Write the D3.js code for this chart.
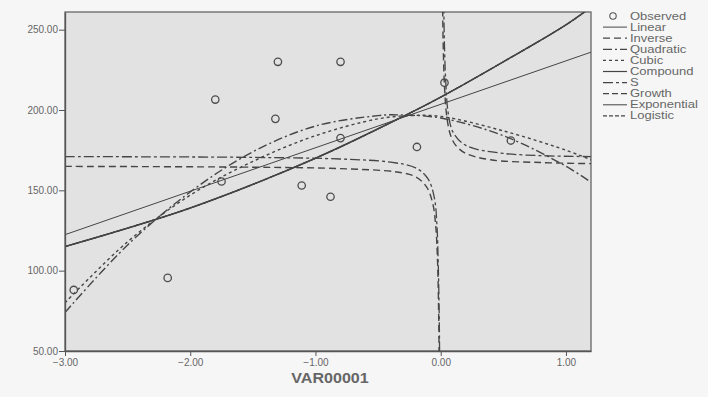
<!DOCTYPE html>
<html>
<head>
<meta charset="utf-8">
<script src="https://cdn.jsdelivr.net/npm/d3@7"></script>
<style>
  body { margin: 0; background: #f6f6f6; }
  svg { display: block; font-family: "Liberation Sans", Arial, sans-serif; }
</style>
</head>
<body>
<div id="chart"></div>
<script>
// ticks
const xTicks = [-3, -2, -1, 0, 1];
const yTicks = [50, 100, 150, 200, 250];

// observed points
const obsX = [-2.93, -2.18, -1.80, -1.75, -1.32, -1.30, -1.11, -0.88, -0.80, -0.80, -0.19, 0.03, 0.56];
const obsY = [88, 95.5, 206.5, 155.5, 194.5, 230, 153, 146, 230, 182.5, 177, 217, 181];

// fitted curves
const linX = [-3, 1.2];
const linY = [122.4, 236];

const quadX = [-3, -2.5, -2, -1.5, -1, -0.5, -0.35, 0, 0.5, 1, 1.2];
const quadY = [74, 116, 149, 174, 190, 196.5, 197, 195, 184, 165, 155];

const cubX = [-3, -2.5, -2, -1.5, -1, -0.5, -0.25, 0, 0.5, 1, 1.2];
const cubY = [80, 118, 147, 168, 184, 194.5, 196.5, 196, 187, 175, 169];

// compound / growth / exponential / logistic coincide
const compX = [-3, -2, -1, -0.3, 0, 0.5, 1, 1.2];
const compY = [115, 139, 170, 196, 208, 230, 253, 264];

const invLX = [-3, -1.5, -0.8, -0.35, -0.2, -0.112, -0.064, -0.04, -0.025, -0.015, -0.01];
const invLY = [164.9, 164.4, 163.5, 161.4, 158.4, 152, 142, 128, 105, 65, 15];
const invRX = [0.012, 0.015, 0.02, 0.03, 0.05, 0.08, 0.12, 0.2, 0.4, 0.8, 1.2];
const invRY = [290, 265, 240, 215, 195, 184, 178, 173, 169, 167.3, 166.6];

const sLX = [-3, -1.5, -0.8, -0.4, -0.2, -0.1, -0.05, -0.03, -0.02, -0.012, -0.008];
const sLY = [171, 170.5, 169.5, 167.5, 164, 157, 145, 128, 105, 72, 40];
const sRX = [0.02, 0.025, 0.03, 0.04, 0.06, 0.1, 0.2, 0.5, 1.2];
const sRY = [290, 261, 240, 218, 198, 186, 178, 173, 171];

const legendNames = ['Observed', 'Linear', 'Inverse', 'Quadratic', 'Cubic', 'Compound', 'S', 'Growth', 'Exponential', 'Logistic'];

const W = 708, H = 397;
const margin = { top: 12, right: 117, bottom: 46, left: 65 };

const svg = d3.select('#chart').append('svg')
  .attr('width', W)
  .attr('height', H);

const x = d3.scaleLinear().domain([-3, 1.2]).range([margin.left, W - margin.right]);
const y = d3.scaleLinear().domain([50, 261]).range([H - margin.bottom, margin.top]);

// plot background
svg.append('rect')
  .attr('x', x(-3)).attr('y', y(261))
  .attr('width', x(1.2) - x(-3)).attr('height', y(50) - y(261))
  .attr('fill', '#e2e2e2')
  .attr('stroke', '#666')
  .attr('stroke-width', 1.3);

svg.append('clipPath').attr('id', 'clip')
  .append('rect')
  .attr('x', x(-3)).attr('y', y(261))
  .attr('width', x(1.2) - x(-3)).attr('height', y(50) - y(261));

const plot = svg.append('g').attr('clip-path', 'url(#clip)');

const zip = (xs, ys) => xs.map((v, i) => [v, ys[i]]);
const line = d3.line()
  .x(d => x(d[0]))
  .y(d => y(d[1]))
  .curve(d3.curveCatmullRom.alpha(0.5));

const ink = '#454545';

// one entry per fitted model
const series = [
  { name: 'Linear', parts: [zip(linX, linY)], dash: null, width: 1 },
  { name: 'Inverse', parts: [zip(invLX, invLY), zip(invRX, invRY)], dash: '7,4', width: 1.4 },
  { name: 'Quadratic', parts: [zip(quadX, quadY)], dash: '9,3,2,3', width: 1.4 },
  { name: 'Cubic', parts: [zip(cubX, cubY)], dash: '3,3', width: 1.4 },
  { name: 'Compound', parts: [zip(compX, compY)], dash: null, width: 1.5 },
  { name: 'S', parts: [zip(sLX, sLY), zip(sRX, sRY)], dash: '10,3,3,3', width: 1.3 },
  { name: 'Growth', parts: [zip(compX, compY)], dash: '6,3', width: 1.2 },
  { name: 'Exponential', parts: [zip(compX, compY)], dash: null, width: 1 },
  { name: 'Logistic', parts: [zip(compX, compY)], dash: '4,2', width: 1.2 }
];

series.forEach(s => {
  s.parts.forEach(p => {
    plot.append('path')
      .datum(p)
      .attr('fill', 'none')
      .attr('stroke', ink)
      .attr('stroke-width', s.width)
      .attr('stroke-dasharray', s.dash)
      .attr('d', line);
  });
});

// observed circles
plot.selectAll('.obs')
  .data(zip(obsX, obsY))
  .enter()
  .append('circle')
  .attr('class', 'obs')
  .attr('cx', d => x(d[0]))
  .attr('cy', d => y(d[1]))
  .attr('r', 3.7)
  .attr('fill', 'none')
  .attr('stroke', '#4d4d4d')
  .attr('stroke-width', 1.3);

// axes
const xAxis = d3.axisBottom(x).tickValues(xTicks).tickFormat(d3.format('.2f')).tickSize(5).tickSizeOuter(0);
const yAxis = d3.axisLeft(y).tickValues(yTicks).tickFormat(d3.format('.2f')).tickSize(6).tickSizeOuter(0);

const gx = svg.append('g')
  .attr('transform', `translate(0,${y(50)})`)
  .call(xAxis);
const gy = svg.append('g')
  .attr('transform', `translate(${x(-3)},0)`)
  .call(yAxis);

[gx, gy].forEach(g => {
  g.select('.domain').attr('stroke', '#555').attr('stroke-width', 1.3);
  g.selectAll('.tick line').attr('stroke', '#555');
  g.selectAll('.tick text').attr('fill', '#666').attr('font-size', 10)
    .attr('font-family', '"Liberation Sans", Arial, sans-serif');
});
gy.selectAll('.tick text').attr('x', -7);

svg.append('text')
  .attr('transform', 'translate(330,383) scale(1.15,1)')
  .attr('text-anchor', 'middle')
  .attr('font-size', 14)
  .attr('font-weight', 'bold')
  .attr('fill', '#666')
  .text('VAR00001');

// legend
const lg = svg.append('g').attr('transform', 'translate(601,16)');
const rowH = 11.1;
legendNames.forEach((name, i) => {
  const row = lg.append('g').attr('transform', `translate(0,${i * rowH})`);
  if (i === 0) {
    row.append('circle').attr('cx', 12).attr('cy', 0).attr('r', 3.2)
      .attr('fill', 'none').attr('stroke', '#555').attr('stroke-width', 1.1);
  } else {
    const s = series[i - 1];
    row.append('line')
      .attr('x1', 2).attr('x2', 26).attr('y1', 0).attr('y2', 0)
      .attr('stroke', ink)
      .attr('stroke-width', Math.min(s.width, 1.2))
      .attr('stroke-dasharray', s.dash);
  }
  row.append('text')
    .attr('transform', 'translate(29,3.5) scale(1.3,1)')
    .attr('font-size', 10)
    .attr('fill', '#666')
    .text(name);
});
</script>
</body>
</html>
